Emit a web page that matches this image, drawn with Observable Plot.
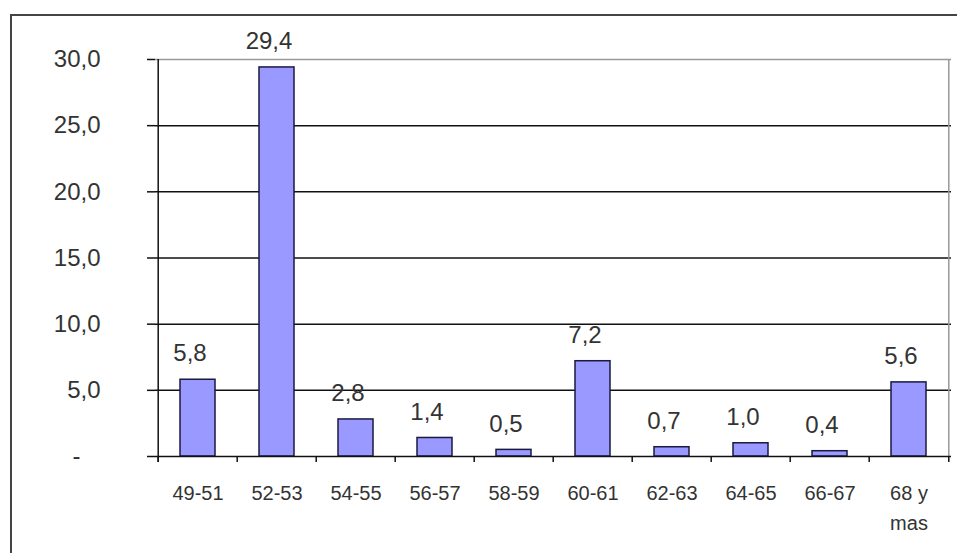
<!DOCTYPE html>
<html>
<head>
<meta charset="utf-8">
<script src="https://cdn.jsdelivr.net/npm/d3@7"></script>
<script src="https://cdn.jsdelivr.net/npm/@observablehq/plot@0.6"></script>
<style>
  html, body { margin: 0; padding: 0; background: #fff; overflow: hidden; }
  #wrap { position: relative; width: 957px; height: 553px; }
  #border { position: absolute; left: 10px; top: 14px; width: 1000px; height: 600px;
            border-left: 2px solid #444; border-top: 2px solid #444; pointer-events: none; }
</style>
</head>
<body>
<div id="wrap"><div id="border"></div></div>
<script>
const categories = ["49-51", "52-53", "54-55", "56-57", "58-59", "60-61", "62-63", "64-65", "66-67", "68 y mas"];
const tickLabels = ["49-51", "52-53", "54-55", "56-57", "58-59", "60-61", "62-63", "64-65", "66-67", "68 y\nmas"];
const values = [5.8, 29.4, 2.8, 1.4, 0.5, 7.2, 0.7, 1.0, 0.4, 5.6];
const yTicks = [0, 5, 10, 15, 20, 25, 30];

const data = categories.map((c, i) => ({cat: c, value: values[i], label: tickLabels[i]}));
const fmt = v => v.toFixed(1).replace(".", ",");
const yFmt = v => v === 0 ? "-\u00a0\u00a0\u00a0" : fmt(v);

const W = 957, H = 553, mL = 155, mR = 6, mT = 59, mB = 97;
const bw = (W - mL - mR) / categories.length;
const first = categories[0], last = categories[categories.length - 1];

const chart = Plot.plot({
  width: W, height: H,
  marginLeft: mL, marginRight: mR, marginTop: mT, marginBottom: mB,
  style: {fontFamily: "'Liberation Sans', Arial, sans-serif", background: "transparent", color: "#333"},
  x: {domain: categories, padding: 0, axis: null},
  y: {domain: [0, 30], axis: null},
  marks: [
    Plot.ruleY(yTicks.filter(d => d > 0 && d < 30), {stroke: "#111", strokeWidth: 1.5}),
    Plot.ruleY([30], {stroke: "#999", strokeWidth: 1.5}),
    Plot.ruleX([last], {x: d => d, dx: bw / 2, y1: 0, y2: 30, stroke: "#999", strokeWidth: 1.5}),
    Plot.barY(data, {x: "cat", y: "value", fill: "#9999ff", stroke: "#1a1a40", strokeWidth: 1.5, insetLeft: 22, insetRight: 22}),
    Plot.ruleY([0], {stroke: "#111", strokeWidth: 1.5}),
    Plot.ruleX([first], {x: d => d, dx: -bw / 2, y1: -0.45, y2: 30, stroke: "#111", strokeWidth: 1.5}),
    Plot.ruleX(categories, {x: d => d, dx: -bw / 2, y1: 0, y2: -0.45, stroke: "#111", strokeWidth: 1.5}),
    Plot.ruleX([last], {x: d => d, dx: bw / 2, y1: 0, y2: -0.45, stroke: "#111", strokeWidth: 1.5}),
    Plot.axisY({ticks: yTicks, label: null, tickSize: 8, tickPadding: 47, tickFormat: yFmt, fontSize: 24, stroke: "#111", strokeWidth: 1.5}),
    Plot.text(data, {x: "cat", y: "value", text: d => fmt(d.value), dy: -26, dx: -8, fontSize: 24, fill: "#333"}),
    Plot.text(data, {x: "cat", y: d => 0, text: "label", dy: 22, lineAnchor: "top", lineHeight: 1.5, fontSize: 20, fill: "#333"})
  ]
});
document.getElementById("wrap").prepend(chart);
</script>
</body>
</html>
